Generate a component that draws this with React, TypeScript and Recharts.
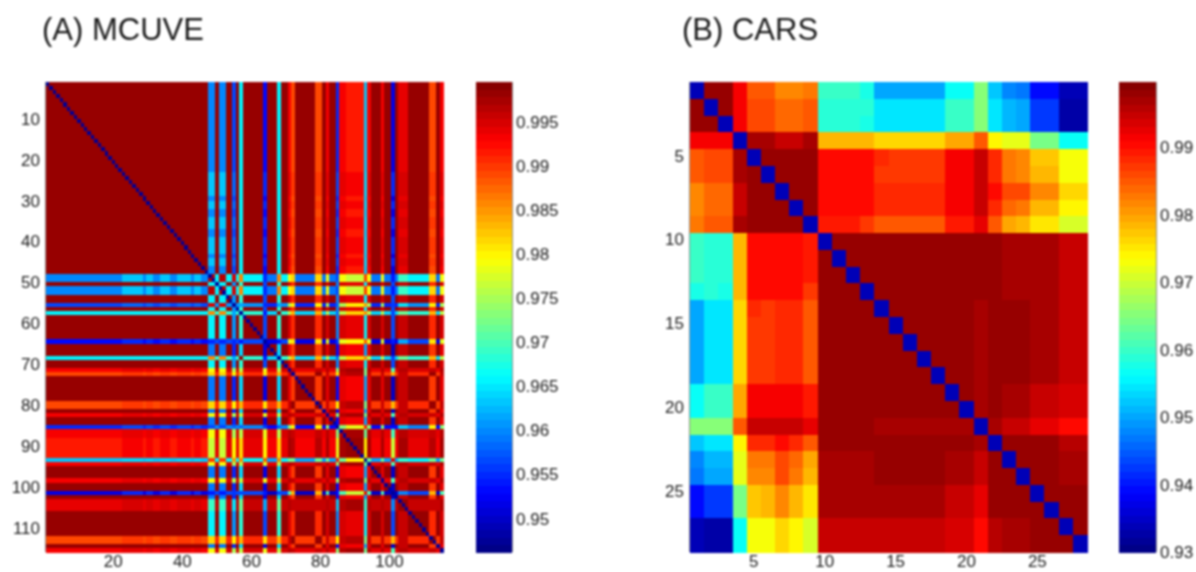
import { ScatterChart, Scatter, XAxis, YAxis } from 'recharts';

// MCUVE variables, read as runs of similar behaviour along the axis (115 in all)
const mcuveRuns: [string, number][] = [
  ['a', 22], ['b', 6], ['a', 1], ['b', 2], ['a', 2], ['b', 3], ['a', 2], ['b', 4], ['a', 1], ['b', 2], ['a', 2],
  ['B', 2], ['e', 1], ['B', 2], ['e', 2], ['A', 1], ['e', 1], ['C', 1], ['e', 6], ['U', 1], ['c', 3], ['C', 1],
  ['e', 2], ['r', 1], ['O', 1], ['c', 6], ['O', 2], ['c', 1], ['r', 1], ['c', 2], ['V', 1], ['r', 2], ['R', 5],
  ['T', 1], ['r', 1], ['c', 3], ['r', 1], ['c', 2], ['W', 1], ['c', 1], ['s', 3], ['e', 6], ['O', 2], ['c', 1], ['r', 1],
];
const mcuveGroups = ['a', 'b', 'e', 'c', 's', 'r', 'R', 'O', 'B', 'A', 'C', 'U', 'V', 'T', 'W'];
// correlation between groups, lower triangle
const mcuveTable = [
  [0.9985],
  [0.9982, 0.9985],
  [0.998, 0.9985, 0.9985],
  [0.998, 0.9985, 0.9985, 0.9985],
  [0.9945, 0.995, 0.996, 0.996, 0.998],
  [0.993, 0.994, 0.995, 0.994, 0.997, 0.997],
  [0.992, 0.993, 0.994, 0.993, 0.9975, 0.9975, 0.9985],
  [0.9895, 0.99, 0.991, 0.99, 0.996, 0.996, 0.997, 0.998],
  [0.96, 0.9635, 0.9655, 0.959, 0.969, 0.979, 0.977, 0.982, 0.9965],
  [0.9565, 0.958, 0.9605, 0.955, 0.965, 0.975, 0.98, 0.98, 0.995, 0.9985],
  [0.9655, 0.966, 0.968, 0.964, 0.972, 0.976, 0.982, 0.983, 0.986, 0.962, 0.998],
  [0.953, 0.955, 0.957, 0.952, 0.962, 0.978, 0.98, 0.981, 0.955, 0.955, 0.954, 0.9985],
  [0.955, 0.957, 0.96, 0.953, 0.963, 0.973, 0.978, 0.98, 0.957, 0.958, 0.958, 0.956, 0.9985],
  [0.9635, 0.964, 0.966, 0.962, 0.968, 0.972, 0.98, 0.972, 0.99, 0.985, 0.986, 0.988, 0.992, 0.9985],
  [0.952, 0.955, 0.957, 0.95, 0.96, 0.97, 0.977, 0.983, 0.954, 0.956, 0.957, 0.954, 0.953, 0.994, 0.9985],
];
const mcuveDiagonal = 0.9475;

// CARS correlations, upper triangle, one row per variable
const carsUpper = [
  [0.998, 0.998, 0.992, 0.985, 0.985, 0.982, 0.982, 0.983, 0.96, 0.96, 0.96, 0.958, 0.95, 0.95, 0.95, 0.95, 0.95, 0.957, 0.957, 0.965, 0.952, 0.9475, 0.9465, 0.9395, 0.9395, 0.934, 0.934],
  [0.9985, 0.991, 0.986, 0.986, 0.984, 0.984, 0.985, 0.959, 0.959, 0.959, 0.959, 0.955, 0.955, 0.955, 0.955, 0.955, 0.9595, 0.9595, 0.965, 0.955, 0.951, 0.95, 0.943, 0.943, 0.933, 0.933],
  [0.991, 0.986, 0.986, 0.984, 0.984, 0.985, 0.959, 0.959, 0.959, 0.958, 0.955, 0.955, 0.955, 0.955, 0.955, 0.9595, 0.9595, 0.965, 0.955, 0.951, 0.95, 0.943, 0.943, 0.933, 0.933],
  [0.997, 0.997, 0.995, 0.995, 0.997, 0.979, 0.979, 0.979, 0.979, 0.976, 0.976, 0.976, 0.976, 0.976, 0.98, 0.98, 0.985, 0.974, 0.972, 0.972, 0.964, 0.964, 0.957, 0.957],
  [0.9985, 0.9985, 0.9985, 0.9985, 0.99, 0.99, 0.99, 0.99, 0.988, 0.987, 0.987, 0.987, 0.987, 0.991, 0.991, 0.995, 0.988, 0.983, 0.982, 0.977, 0.977, 0.973, 0.973],
  [0.9985, 0.9985, 0.9985, 0.99, 0.99, 0.99, 0.99, 0.987, 0.987, 0.987, 0.987, 0.987, 0.991, 0.991, 0.995, 0.988, 0.983, 0.982, 0.978, 0.978, 0.973, 0.973],
  [0.9985, 0.9985, 0.99, 0.99, 0.99, 0.99, 0.988, 0.988, 0.988, 0.988, 0.988, 0.991, 0.991, 0.995, 0.99, 0.986, 0.986, 0.982, 0.982, 0.976, 0.976],
  [0.9985, 0.99, 0.99, 0.99, 0.99, 0.988, 0.988, 0.988, 0.988, 0.988, 0.991, 0.991, 0.995, 0.988, 0.984, 0.983, 0.979, 0.979, 0.9745, 0.9745],
  [0.989, 0.989, 0.989, 0.987, 0.985, 0.985, 0.985, 0.985, 0.985, 0.989, 0.989, 0.993, 0.985, 0.98, 0.979, 0.975, 0.975, 0.971, 0.971],
  [0.9985, 0.9985, 0.9985, 0.9985, 0.9985, 0.9985, 0.9985, 0.9985, 0.9985, 0.9985, 0.998, 0.998, 0.9975, 0.9975, 0.997, 0.997, 0.995, 0.995],
  [0.9985, 0.9985, 0.9985, 0.9985, 0.9985, 0.9985, 0.9985, 0.9985, 0.9985, 0.998, 0.998, 0.9975, 0.9975, 0.997, 0.997, 0.995, 0.995],
  [0.9985, 0.9985, 0.9985, 0.9985, 0.9985, 0.9985, 0.9985, 0.9985, 0.998, 0.998, 0.9975, 0.9975, 0.997, 0.997, 0.995, 0.995],
  [0.9985, 0.9985, 0.9985, 0.9985, 0.9985, 0.9985, 0.9985, 0.998, 0.998, 0.9975, 0.9975, 0.997, 0.997, 0.995, 0.995],
  [0.9985, 0.9985, 0.9985, 0.9985, 0.9985, 0.9985, 0.9965, 0.9985, 0.998, 0.998, 0.9975, 0.9975, 0.995, 0.995],
  [0.9985, 0.9985, 0.9985, 0.9985, 0.9985, 0.9965, 0.9985, 0.998, 0.998, 0.9975, 0.9975, 0.995, 0.995],
  [0.9985, 0.9985, 0.9985, 0.9985, 0.9965, 0.9985, 0.998, 0.998, 0.9975, 0.9975, 0.995, 0.995],
  [0.9985, 0.9985, 0.9985, 0.9965, 0.9985, 0.998, 0.998, 0.9975, 0.9975, 0.995, 0.995],
  [0.9985, 0.9985, 0.9965, 0.9985, 0.998, 0.998, 0.9975, 0.9975, 0.995, 0.995],
  [0.9985, 0.9975, 0.998, 0.9975, 0.9975, 0.995, 0.995, 0.994, 0.994],
  [0.9975, 0.998, 0.9975, 0.9975, 0.995, 0.995, 0.994, 0.994],
  [0.997, 0.995, 0.995, 0.993, 0.993, 0.99, 0.99],
  [0.9985, 0.9985, 0.998, 0.998, 0.996, 0.996],
  [0.9985, 0.998, 0.998, 0.9965, 0.9965],
  [0.998, 0.998, 0.997, 0.997],
  [0.9985, 0.998, 0.998],
  [0.998, 0.998],
  [0.998],
];
const carsDiagonal = 0.9335;

const mcuveXTicks = [20, 40, 60, 80, 100];
const mcuveYTicks = [10, 20, 30, 40, 50, 60, 70, 80, 90, 100, 110];
const carsTicks = [5, 10, 15, 20, 25];
const mcuveBarTicks = [0.95, 0.955, 0.96, 0.965, 0.97, 0.975, 0.98, 0.985, 0.99, 0.995];
const carsBarTicks = [0.93, 0.94, 0.95, 0.96, 0.97, 0.98, 0.99];
const mcuveRange: [number, number] = [0.9462, 0.9995];
const carsRange: [number, number] = [0.93, 0.9997];

const FONT = '"Liberation Sans", Arial, sans-serif';
const TEXT = '#1a1a1a';
const LINE = '#222222';
const tickStyle = { fontSize: 17, fontFamily: FONT, fill: TEXT };

// 64 step jet colour map, as on the colour bars
function jet(value: number, range: [number, number]) {
  const p = Math.max(0, Math.min(0.9999, (value - range[0]) / (range[1] - range[0])));
  const t = (Math.floor(p * 64) + 0.5) / 64;
  const c = (d: number) => Math.round(255 * Math.max(0, Math.min(1, 1.5 - Math.abs(4 * t - d))));
  return `rgb(${c(3)},${c(2)},${c(1)})`;
}

const mcuveVars = mcuveRuns.flatMap(([g, n]) => Array(n).fill(mcuveGroups.indexOf(g))) as number[];
const mcuveCells: { x: number; y: number; v: number }[] = [];
mcuveVars.forEach((gi, i) => {
  mcuveVars.forEach((gj, j) => {
    const v = i === j ? mcuveDiagonal : mcuveTable[Math.max(gi, gj)][Math.min(gi, gj)];
    mcuveCells.push({ x: j + 1, y: i + 1, v });
  });
});

const carsSize = carsUpper.length + 1;
const carsCells: { x: number; y: number; v: number }[] = [];
for (let i = 0; i < carsSize; i++) {
  for (let j = 0; j < carsSize; j++) {
    let v = carsDiagonal;
    if (i < j) v = carsUpper[i][j - i - 1];
    if (i > j) v = carsUpper[j][i - j - 1];
    carsCells.push({ x: j + 1, y: i + 1, v });
  }
}

function barLevels(range: [number, number]) {
  const out = [];
  for (let k = 0; k < 64; k++) {
    out.push({ x: 0.5, v: range[0] + ((k + 0.5) / 64) * (range[1] - range[0]) });
  }
  return out;
}

function Heatmap({ cells, size, range, xTicks, yTicks, left, width, plotLeft, plotRight }: any) {
  const plotW = plotRight - plotLeft;
  const plotH = 470;
  const w = plotW / size;
  const h = plotH / size;
  const domain: [number, number] = [0.5, size + 0.5];
  const shape = (p: any) => (
    <rect
      x={p.cx - w / 2}
      y={p.cy - h / 2}
      width={w + 0.5}
      height={h + 0.5}
      fill={jet(p.payload.v, range)}
      shapeRendering="crispEdges"
    />
  );
  return (
    <div style={{ position: 'absolute', left, top: 60 }}>
      <ScatterChart
        width={width}
        height={512}
        margin={{ top: 22, right: width - (plotRight - left), bottom: 0, left: 0 }}
      >
        <XAxis
          dataKey="x"
          type="number"
          domain={domain}
          ticks={xTicks}
          interval={0}
          height={20}
          tickSize={-4}
          tickMargin={7}
          tick={tickStyle}
          axisLine={{ stroke: LINE }}
          tickLine={{ stroke: LINE }}
        />
        <XAxis xAxisId="top" orientation="top" type="number" domain={domain} ticks={xTicks} interval={0} height={0} tickSize={-4} tick={false} axisLine={{ stroke: LINE }} tickLine={{ stroke: LINE }} />
        <YAxis
          dataKey="y"
          type="number"
          reversed
          domain={domain}
          ticks={yTicks}
          interval={0}
          width={plotLeft - left}
          tickSize={-4}
          tickMargin={10}
          tick={{ ...tickStyle, dy: -2 }}
          axisLine={{ stroke: LINE }}
          tickLine={{ stroke: LINE }}
        />
        <YAxis yAxisId="right" orientation="right" type="number" reversed domain={domain} ticks={yTicks} interval={0} width={0} tickSize={-4} tick={false} axisLine={{ stroke: LINE }} tickLine={{ stroke: LINE }} />
        <Scatter data={cells} shape={shape} isAnimationActive={false} />
      </ScatterChart>
    </div>
  );
}

function ColorBar({ range, ticks, left, barWidth }: any) {
  const levels = barLevels(range);
  const h = 470 / 64;
  const shape = (p: any) => (
    <rect
      x={p.cx - barWidth / 2}
      y={p.cy - h / 2}
      width={barWidth}
      height={h + 0.5}
      fill={jet(p.payload.v, range)}
      shapeRendering="crispEdges"
    />
  );
  return (
    <div style={{ position: 'absolute', left, top: 60 }}>
      <ScatterChart width={barWidth + 60} height={512} margin={{ top: 22, right: 0, bottom: 20, left: 0 }}>
        <XAxis dataKey="x" type="number" domain={[0, 1]} hide />
        <YAxis
          dataKey="v"
          type="number"
          orientation="right"
          domain={range}
          ticks={ticks}
          interval={0}
          width={60}
          tickSize={-4}
          tickMargin={8}
          tick={tickStyle}
          tickFormatter={(t: number) => String(t)}
          axisLine={{ stroke: LINE }}
          tickLine={{ stroke: LINE }}
        />
        <YAxis yAxisId="left" orientation="left" type="number" domain={range} ticks={ticks} interval={0} width={0} tickSize={-4} tick={false} axisLine={{ stroke: LINE }} tickLine={{ stroke: LINE }} />
        <Scatter data={levels} shape={shape} isAnimationActive={false} />
      </ScatterChart>
    </div>
  );
}

const titleStyle = { position: 'absolute', top: 14, fontSize: 31, lineHeight: '32px', fontFamily: FONT, color: TEXT } as const;

export default function App() {
  return (
    <div style={{ position: 'absolute', left: 0, top: 0, width: 1196, height: 572, background: '#fff', overflow: 'hidden', filter: 'blur(0.8px)' }}>
      <div style={{ ...titleStyle, left: 42 }}>(A) MCUVE</div>
      <div style={{ ...titleStyle, left: 682 }}>(B) CARS</div>

      <Heatmap cells={mcuveCells} size={115} range={mcuveRange} xTicks={mcuveXTicks} yTicks={mcuveYTicks} left={0} width={460} plotLeft={46} plotRight={443} />
      <ColorBar range={mcuveRange} ticks={mcuveBarTicks} left={476} barWidth={36} />

      <Heatmap cells={carsCells} size={carsSize} range={carsRange} xTicks={carsTicks} yTicks={carsTicks} left={640} width={460} plotLeft={690} plotRight={1087} />
      <ColorBar range={carsRange} ticks={carsBarTicks} left={1119} barWidth={37} />
    </div>
  );
}
